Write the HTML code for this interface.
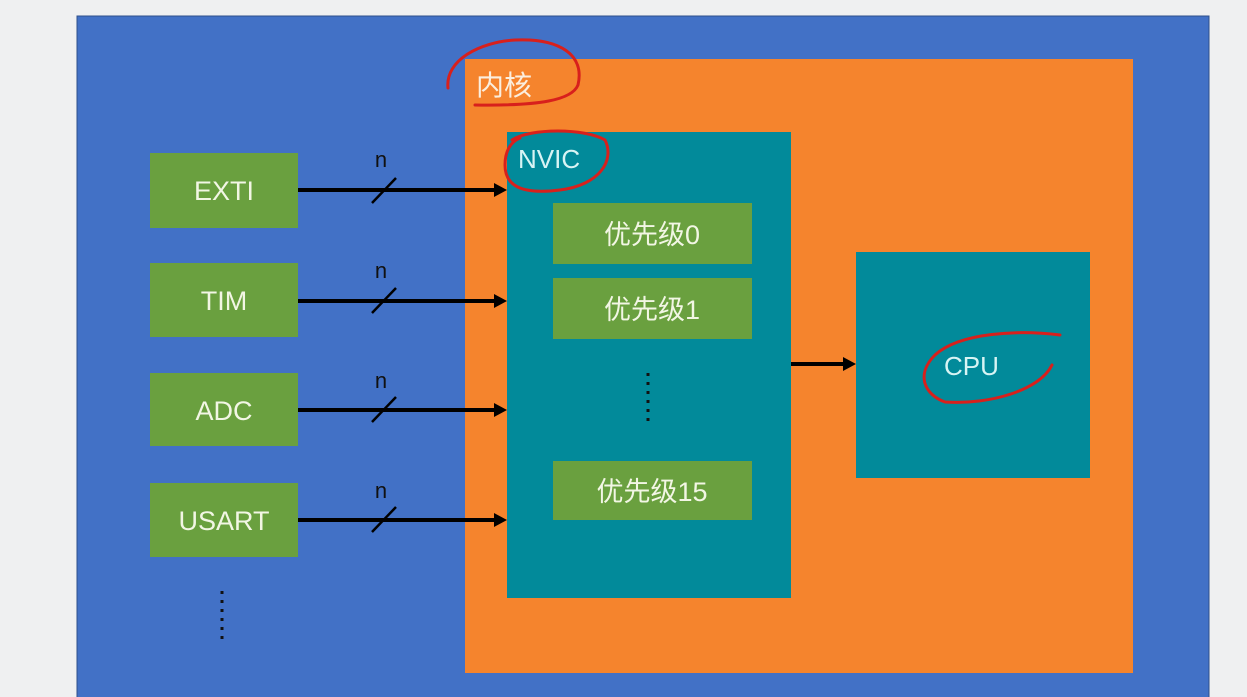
<!DOCTYPE html>
<html><head><meta charset="utf-8"><style>
html,body{margin:0;padding:0;background:#eff0f1;}
svg{display:block}
text{font-family:"Liberation Sans","Noto Sans CJK SC",sans-serif;}
</style></head><body>
<svg width="1247" height="697" viewBox="0 0 1247 697" xmlns="http://www.w3.org/2000/svg">
<rect x="0" y="0" width="1247" height="697" fill="#eff0f1"/>
<rect x="77" y="16" width="1132" height="690" fill="#4271c6" stroke="#2f4f8a" stroke-width="1"/>
<rect x="465" y="59" width="668" height="614" fill="#f5842d"/>
<rect x="507" y="132" width="284" height="466" fill="#028a9a"/>
<rect x="856" y="252" width="234" height="226" fill="#028a9a"/>
<g fill="#6aa03f">
<rect x="150" y="153" width="148" height="75"/>
<rect x="150" y="263" width="148" height="74"/>
<rect x="150" y="373" width="148" height="73"/>
<rect x="150" y="483" width="148" height="74"/>
<rect x="553" y="203" width="199" height="61"/>
<rect x="553" y="278" width="199" height="61"/>
<rect x="553" y="461" width="199" height="59"/>
</g>
<g fill="#f2f6e4" font-size="27" text-anchor="middle">
<text x="224" y="200">EXTI</text>
<text x="224" y="310">TIM</text>
<text x="224" y="420">ADC</text>
<text x="224" y="530">USART</text>
<text x="652" y="244">优先级0</text>
<text x="652" y="319">优先级1</text>
<text x="652" y="501">优先级15</text>
</g>
<text x="476" y="95" fill="#fbeede" font-size="28">内核</text>
<text x="518" y="168" fill="#d8f4f4" font-size="26">NVIC</text>
<text x="944" y="375" fill="#d8f4f4" font-size="26">CPU</text>
<g stroke="#000" stroke-width="4" fill="#000">
<line x1="298" y1="190" x2="496" y2="190"/>
<line x1="298" y1="301" x2="496" y2="301"/>
<line x1="298" y1="410" x2="496" y2="410"/>
<line x1="298" y1="520" x2="496" y2="520"/>
<line x1="791" y1="364" x2="846" y2="364"/>
</g>
<g fill="#000">
<polygon points="494,183 507,190 494,197"/>
<polygon points="494,294 507,301 494,308"/>
<polygon points="494,403 507,410 494,417"/>
<polygon points="494,513 507,520 494,527"/>
<polygon points="843,357 856,364 843,371"/>
</g>
<g stroke="#000" stroke-width="2.5">
<line x1="372" y1="203" x2="396" y2="178"/>
<line x1="372" y1="313" x2="396" y2="288"/>
<line x1="372" y1="422" x2="396" y2="397"/>
<line x1="372" y1="532" x2="396" y2="507"/>
</g>
<g fill="#111" font-size="22" text-anchor="middle">
<text x="381" y="167">n</text>
<text x="381" y="278">n</text>
<text x="381" y="388">n</text>
<text x="381" y="498">n</text>
</g>
<g stroke="#111" stroke-width="3" stroke-dasharray="3,6">
<line x1="648" y1="373" x2="648" y2="425"/>
<line x1="222" y1="591" x2="222" y2="644"/>
</g>
<g fill="none" stroke="#d8201c" stroke-width="3" stroke-linecap="round">
<path d="M448,88 C445,60 480,42 515,40 C560,38 585,55 578,85 C572,100 540,106 475,105"/>
<path d="M512,140 C530,128 585,128 605,140 C615,160 600,185 560,190 C520,195 505,185 505,165 C505,152 510,142 520,138"/>
<path d="M1060,335 C1020,330 960,332 935,355 C915,375 925,395 945,402 C990,405 1040,390 1052,365"/>
</g>
</svg>
</body></html>
